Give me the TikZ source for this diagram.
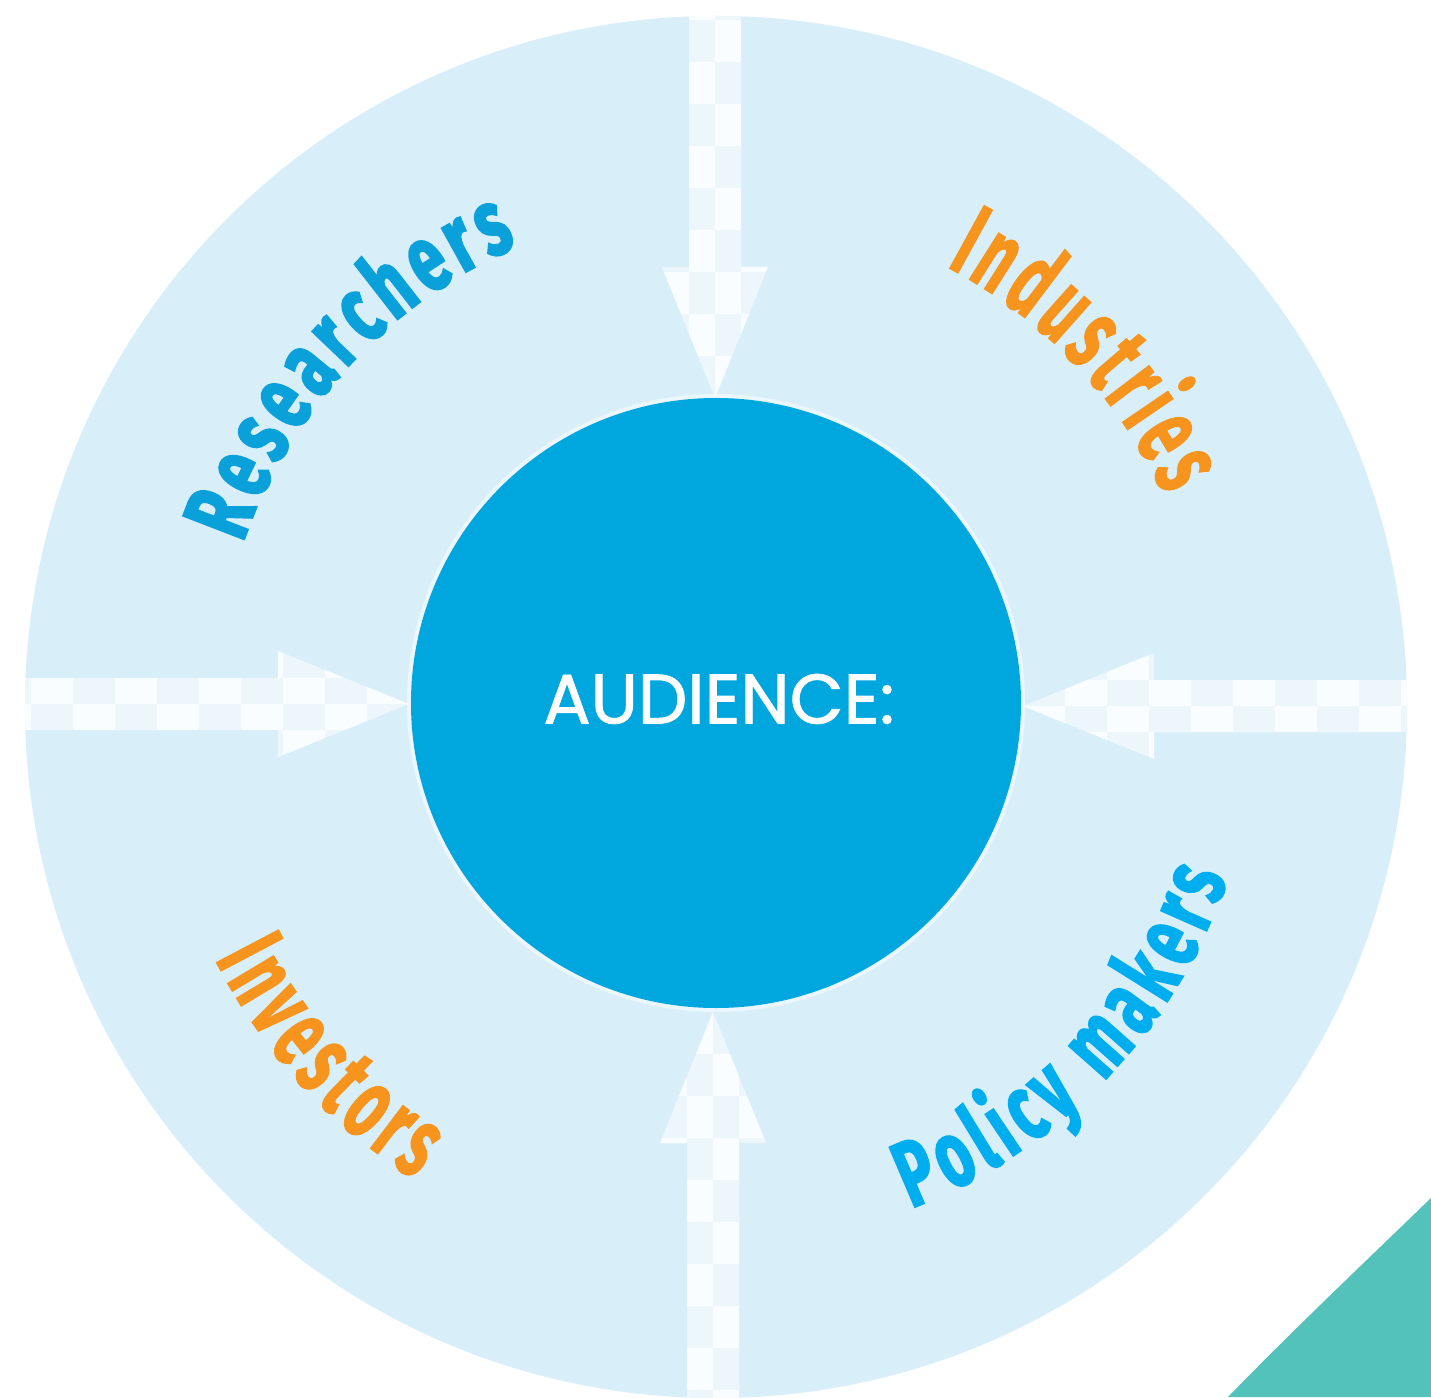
\documentclass[tikz,border=0pt]{standalone}
\usepackage{fontspec}
\usetikzlibrary{decorations.text}
\newfontfamily\resfont[FakeStretch=0.66,FakeBold=2.2]{Fira Sans}
\newfontfamily\indfont[FakeStretch=0.57,FakeBold=0.8]{Fira Sans}
\newfontfamily\invfont[FakeStretch=0.57,FakeBold=1.2]{Fira Sans}
\newfontfamily\polfont[FakeStretch=0.64,FakeBold=1.8]{Fira Sans}
\newfontfamily\audfont[FakeBold=1.2]{Poppins}
\definecolor{ringblue}{HTML}{D8EFFA}
\definecolor{hubblue}{HTML}{00A7DE}
\definecolor{resblue}{HTML}{0AA0D9}
\definecolor{polblue}{HTML}{00AEEF}
\definecolor{orangetxt}{HTML}{F7941D}
\definecolor{tealcorner}{HTML}{52C2BA}
\definecolor{arrowbase}{HTML}{EDF6FB}
\definecolor{arrowcell}{HTML}{FAFDFF}
\tikzset{
  inarrow/.pic={
    \fill[arrowbase] (-26,760) -- (-26,438) -- (-53,438) -- (0,307) -- (53,438) -- (26,438) -- (26,760) -- cycle;
    \begin{scope}
      \clip (-26,760) -- (-26,438) -- (-53,438) -- (0,307) -- (53,438) -- (26,438) -- (26,760) -- cycle;
      \foreach \i in {0,...,10} {
        \foreach \j in {-2,...,1} {
          \pgfmathtruncatemacro\cellpar{mod(\i+\j+4,2)}
          \ifnum\cellpar=0
            \fill[arrowcell] ({\j*26},{307+\i*42}) rectangle ++(26,42);
          \fi
        }
      }
    \end{scope}
  },
  arclabel/.style={decorate, decoration={text along path, text align={fit to path}, text color=#1}}
}
\begin{document}
\begin{tikzpicture}[x=1pt,y=1pt]
\useasboundingbox (-716,-692) rectangle (715,705);
\fill[white] (-716,-692) rectangle (715,705);
% outer ring
\node[circle, fill=ringblue, minimum size=1382pt, inner sep=0pt] (ring) at (0,-2) {};
% arrows
\begin{scope}
  \clip (0,-2) circle[radius=691];
  \pic[rotate=0] (arrowtop) at (-1,0) {inarrow};
  \pic[rotate=90] (arrowleft) at (0,1) {inarrow};
  \pic[rotate=180] (arrowbottom) at (-3,0) {inarrow};
  \pic[rotate=270] (arrowright) at (0,-1) {inarrow};
\end{scope}
% teal corner
\fill[tealcorner] (715,-493) .. controls (650,-556) and (578,-624) .. (512,-692) -- (715,-692) -- cycle;
% hub
\fill[white, opacity=0.5] (0,2) circle[radius=309];
\node[circle, fill=hubblue, minimum size=610pt, inner sep=0pt] (hub) at (0,2) {};
\node[text=white, font=\audfont\fontsize{70}{70}\selectfont, inner sep=0pt] (audtxt) at (3,6) {AUDIENCE:};
% curved labels
\path[arclabel=resblue, decoration={text={|\resfont\bfseries\fontsize{94}{94}\selectfont|Researchers}}]
  (161.1:500) arc[start angle=161.1, end angle=113.4, radius=500];
\path[arclabel=orangetxt, decoration={text={|\indfont\bfseries\fontsize{104}{104}\selectfont|Industries}}]
  (62.3:495) arc[start angle=62.3, end angle=25, radius=495];
\path[arclabel=orangetxt, decoration={text={|\invfont\bfseries\fontsize{101}{101}\selectfont|Investors}}]
  (206.9:562) arc[start angle=206.9, end angle=237.6, radius=562];
\path[arclabel=polblue, decoration={text={|\polfont\bfseries\fontsize{94}{94}\selectfont|Policy makers}}]
  (-68.8:540) arc[start angle=-68.8, end angle=-18.7, radius=540];
\end{tikzpicture}
\end{document}
